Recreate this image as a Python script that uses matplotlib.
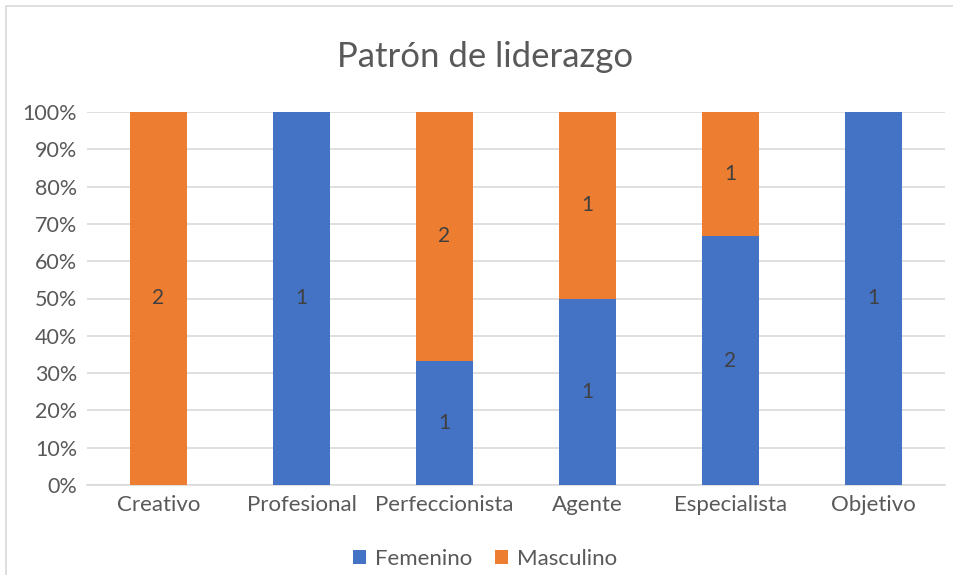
import numpy as np
import matplotlib.pyplot as plt
from matplotlib.patches import Rectangle

categorias = ['Creativo', 'Profesional', 'Perfeccionista', 'Agente', 'Especialista', 'Objetivo']
femenino = [0, 1, 1, 1, 2, 1]
masculino = [2, 0, 2, 1, 1, 0]

plt.rcParams['font.family'] = ['Lato', 'DejaVu Sans']

fem = np.array(femenino, dtype=float)
mas = np.array(masculino, dtype=float)
total = fem + mas
fem_pct = fem / total * 100
mas_pct = mas / total * 100

fig = plt.figure(figsize=(9.54, 5.75), dpi=100)
ax = fig.add_axes([87 / 954, 90 / 575, 858 / 954, 373 / 575])

# borde del gráfico
fig.patches.append(Rectangle((6 / 954, -0.1), 1.2, (569 / 575) + 0.1, transform=fig.transFigure,
                             fill=False, edgecolor='#D9D9D9', linewidth=1.2))

x = np.arange(len(categorias))
ancho = 0.405
b1 = ax.bar(x, fem_pct, ancho, color='#4472C4', label='Femenino', zorder=3)
b2 = ax.bar(x, mas_pct, ancho, bottom=fem_pct, color='#ED7D31', label='Masculino', zorder=3)

# etiquetas de datos
for i in range(len(x)):
    if fem[i] > 0:
        ax.text(x[i], fem_pct[i] / 2, '%d' % fem[i], ha='center', va='center',
                fontsize=15, color='#404040', zorder=4)
    if mas[i] > 0:
        ax.text(x[i], fem_pct[i] + mas_pct[i] / 2, '%d' % mas[i], ha='center', va='center',
                fontsize=15, color='#404040', zorder=4)

ax.set_xlim(-0.5, len(categorias) - 0.5)
ax.set_ylim(0, 100)
ax.set_yticks(np.arange(0, 101, 10))
ax.set_yticklabels(['%d%%' % v for v in range(0, 101, 10)])
ax.set_xticks(x)
ax.set_xticklabels(categorias)
ax.tick_params(axis='both', length=0, colors='#595959')
ax.tick_params(axis='y', pad=7, labelsize=15.5)
ax.tick_params(axis='x', pad=7, labelsize=16)
ax.grid(axis='y', color='#D9D9D9', linewidth=1.2, zorder=0)
for s in ['top', 'right', 'left']:
    ax.spines[s].set_visible(False)
ax.spines['bottom'].set_color('#D9D9D9')
ax.spines['bottom'].set_linewidth(1.2)

fig.text(485 / 954, 1 - 57 / 575, 'Patrón de liderazgo', ha='center', va='center',
         fontsize=25, color='#595959')

fig.legend(handles=[b1, b2], loc='center', bbox_to_anchor=(485 / 954, 1 - 559 / 575),
           ncol=2, frameon=False, fontsize=16, labelcolor='#595959',
           handlelength=0.6, handleheight=0.6, handletextpad=0.4, columnspacing=1.0)

fig.savefig('out.png', dpi=100)
